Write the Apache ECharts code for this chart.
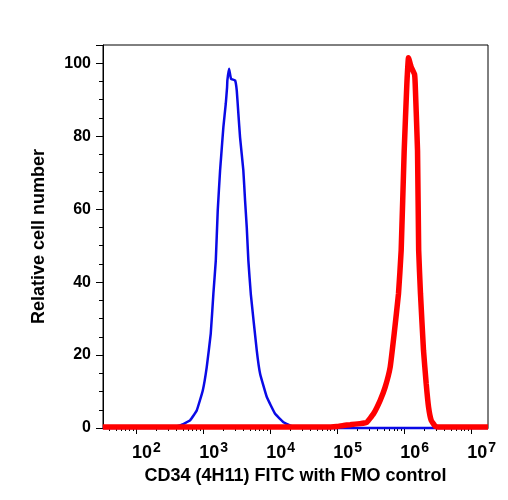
<!DOCTYPE html>
<html><head><meta charset="utf-8">
<script src="https://cdn.jsdelivr.net/npm/echarts@6/dist/echarts.min.js"></script>
<style>html,body{margin:0;padding:0;background:#fff}#c{width:508px;height:500px}</style>
</head><body><div id="c"></div>
<script>
// FMO control (blue)
const blueX = [32, 200, 321, 454, 640, 805, 991, 1135, 1303, 1426, 1549, 1656, 1795, 1858, 2010, 2183, 2282, 2306, 2443, 2617, 3006, 3184, 3365, 3565, 3990, 4236, 4487, 4742, 5152, 6324, 7096, 8933, 11885, 15812, 22284, 33113, 17782794];
const blueY = [0, 0, 0.1, 0.7, 2.1, 4.8, 10.3, 16.7, 25.9, 36.8, 45.9, 59.6, 70.6, 74.2, 82.5, 88.9, 93.4, 95.3, 98.5, 95.7, 95.3, 92.5, 86.1, 79.7, 70.6, 62.3, 55, 45.9, 36.8, 21.3, 14.9, 8.5, 3.9, 1.6, 0.3, 0, 0];
// CD34 (4H11) FITC (red)
const redX = [32, 79433, 99080, 124165, 156315, 220290, 277332, 348337, 438531, 519996, 618016, 709578, 822243, 901571, 1000000, 1096478, 1158777, 1270574, 1425103, 1458814, 1581248, 1644676, 1750000, 1940886, 2128139, 2306747, 2529297, 2904023, 3443499, 17782794];
const redY = [0.3, 0.3, 0.4, 0.7, 0.9, 1.2, 1.6, 3.9, 7.6, 11.2, 16.7, 25.9, 36.8, 48.7, 76, 94.4, 101.5, 99, 97, 94.4, 76, 48.7, 36.8, 21.3, 12.2, 5.8, 2.1, 0.5, 0.3, 0.3];
// axis ticks
const xMajorTicks = [1e2, 1e3, 1e4, 1e5, 1e6, 1e7];
const xMinorTicks = [];
for (let e = 1; e <= 7; e++) for (let k = 2; k <= 9; k++) { const v = k * Math.pow(10, e); if (v > 32.2 && v < 17782794) xMinorTicks.push(v); }
const yTicks = [0, 20, 40, 60, 80, 100];
const xTitle = 'CD34 (4H11) FITC with FMO control';
const yTitle = 'Relative cell number';

const FONT = '"Liberation Sans", Arial, Helvetica, sans-serif';
const zip = (xs, ys) => xs.map((x, i) => [x, ys[i]]);
const chart = echarts.init(document.getElementById('c'), null, {renderer: 'canvas'});
chart.setOption({
  animation: false,
  backgroundColor: '#fff',
  grid: {left: 103, right: 20, top: 45, bottom: 72, show: true, borderColor: '#000', borderWidth: 1, containLabel: false},
  xAxis: [{
    type: 'log', logBase: 10, min: 32.2, max: 17782794,
    name: xTitle, nameLocation: 'middle', nameGap: 37,
    nameTextStyle: {fontFamily: FONT, fontWeight: 'bold', fontSize: 18, color: '#000'},
    axisLine: {show: true, lineStyle: {color: '#000', width: 1}},
    axisTick: {show: true, inside: false, length: 6, customValues: xMajorTicks, lineStyle: {color: '#000'}},
    axisLabel: {
      customValues: xMajorTicks, margin: 13, align: 'center', padding: [0, 0, 0, 21],
      formatter: v => '{b|10}{s|' + Math.round(Math.log10(v)) + '}',
      rich: {
        b: {fontFamily: FONT, fontWeight: 'bold', fontSize: 18, color: '#000'},
        s: {fontFamily: FONT, fontWeight: 'bold', fontSize: 14, color: '#000', verticalAlign: 'bottom', padding: [0, 0, 11, 1]}
      }
    },
    splitLine: {show: false}, minorTick: {show: false}
  }, {
    type: 'log', logBase: 10, min: 32.2, max: 17782794, position: 'bottom',
    axisLine: {show: false},
    axisTick: {show: true, length: 3, customValues: xMinorTicks, lineStyle: {color: '#000'}},
    axisLabel: {show: false}, splitLine: {show: false}
  }],
  yAxis: {
    type: 'value', min: 0, max: 105, interval: 20,
    name: yTitle, nameLocation: 'middle', nameGap: 55, nameRotate: 90,
    nameTextStyle: {fontFamily: FONT, fontWeight: 'bold', fontSize: 18, color: '#000'},
    axisLine: {show: true, lineStyle: {color: '#000', width: 1}},
    axisTick: {show: true, length: 7, lineStyle: {color: '#000'}},
    minorTick: {show: true, splitNumber: 4, length: 4, lineStyle: {color: '#000'}},
    axisLabel: {customValues: yTicks, margin: 12, fontFamily: FONT, fontWeight: 'bold', fontSize: 16, color: '#000'},
    splitLine: {show: false}
  },
  series: [{
    type: 'line', data: zip(blueX, blueY), showSymbol: false, symbol: 'none', clip: false, smooth: 0.1,
    lineStyle: {color: '#0a0ae6', width: 2.5}, z: 2
  }, {
    type: 'line', data: zip(redX, redY), showSymbol: false, symbol: 'none', clip: false, smooth: 0.1,
    lineStyle: {color: '#ff0000', width: 5.5}, z: 3
  }]
});
</script></body></html>
